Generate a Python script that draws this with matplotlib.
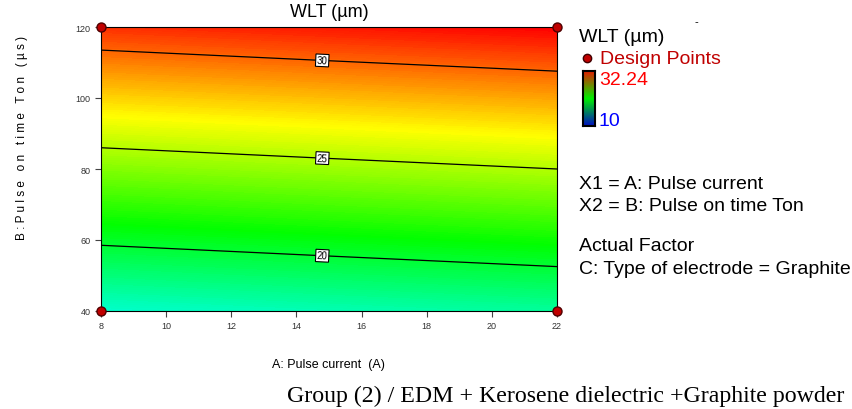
import numpy as np
import matplotlib
matplotlib.use("Agg")
import matplotlib.pyplot as plt
from matplotlib.colors import LinearSegmentedColormap

plt.rcParams["font.family"] = ["Liberation Sans", "DejaVu Sans"]

# WLT (um) at a coarse grid of factor settings
A_VALUES = [8, 15, 22]                 # A: Pulse current (A)
B_VALUES = [40, 60, 80, 100, 120]      # B: Pulse on time Ton (us)
WLT = [                                # rows follow B, columns follow A
    [16.64, 17.19, 17.73],
    [20.27, 20.82, 21.36],
    [23.91, 24.46, 25.00],
    [27.55, 28.09, 28.64],
    [31.18, 31.73, 32.24],
]
CONTOUR_LEVELS = [20, 25, 30]
COLOR_MIN, COLOR_MAX = 10, 32.24
DESIGN_A = [8, 8, 22, 22]
DESIGN_B = [40, 120, 40, 120]
X_TICKS = [8, 10, 12, 14, 16, 18, 20, 22]
Y_TICKS = [40, 60, 80, 100, 120]

cmap = LinearSegmentedColormap.from_list(
    "dx", [(0.0, "#0000ff"), (0.25, "#00ffff"), (0.5, "#00ff00"),
           (0.75, "#ffff00"), (1.0, "#ff0000")])
# the small legend bar is drawn in a darker red-green-blue ramp
legend_cmap = LinearSegmentedColormap.from_list(
    "dx_legend", [(0.0, "#0010c0"), (0.5, "#00ee00"), (1.0, "#e02000")])

fig = plt.figure(figsize=(8.53, 4.10), dpi=100)
ax = fig.add_axes([101 / 853, 1 - 312 / 410, 456 / 853, 284 / 410])

Ag, Bg = np.meshgrid(A_VALUES, B_VALUES)
Z = np.array(WLT)
ax.contourf(Ag, Bg, Z, levels=np.linspace(COLOR_MIN, COLOR_MAX, 200),
            cmap=cmap, vmin=COLOR_MIN, vmax=COLOR_MAX)
cs = ax.contour(Ag, Bg, Z, levels=CONTOUR_LEVELS, colors="black", linewidths=0.9)
labels = ax.clabel(cs, fmt="%d", fontsize=7, inline=False,
                   manual=[(14.8, 112), (14.8, 84), (14.8, 57)])
for t in labels:
    t.set_bbox(dict(boxstyle="square,pad=0.12", fc="white", ec="black", lw=0.8))

ax.plot(DESIGN_A, DESIGN_B, "o", color="#c00000", mec="#500000", ms=6.5,
        clip_on=False, zorder=5)

ax.set_xlim(8, 22)
ax.set_ylim(40, 120)
ax.set_xticks(X_TICKS)
ax.set_yticks(Y_TICKS)
ax.tick_params(direction="out", length=4, width=0.8, labelsize=6.5,
               labelcolor="#333333", color="#444444")
for s in ax.spines.values():
    s.set_linewidth(0.8)

ax.set_title("WLT (µm)", fontsize=13, pad=8)
fig.text(328 / 853, 1 - 365 / 410, "A: Pulse current  (A)", ha="center",
         va="center", fontsize=9)
fig.text(22 / 853, 1 - 138 / 410, "B : P u l s e   o n   t i m e   T o n   ( µ s )",
         ha="center", va="center", rotation=90, fontsize=8.5)

# right-hand legend block
fig.text(579 / 853, 1 - 38 / 410, "WLT (µm)", fontsize=14, va="center")
fig.text(695 / 853, 1 - 22 / 410, "-", fontsize=8, va="center")
fig.lines.append(plt.Line2D([587 / 853], [1 - 59 / 410], marker="o", ms=6,
                            color="#c00000", mec="#400000",
                            transform=fig.transFigure))
fig.text(600 / 853, 1 - 59 / 410, "Design Points", fontsize=14,
         color="#c00000", va="center")
cax = fig.add_axes([583 / 853, 1 - 127 / 410, 12 / 853, 55 / 410])
grad = np.linspace(0, 1, 100).reshape(-1, 1)
cax.imshow(grad, aspect="auto", cmap=legend_cmap, origin="lower",
           extent=[0, 1, 0, 1])
cax.set_xticks([])
cax.set_yticks([])
for s in cax.spines.values():
    s.set_linewidth(1.5)
fig.text(599 / 853, 1 - 81 / 410, "32.24", fontsize=14, color="#ff0000",
         va="center")
fig.text(599 / 853, 1 - 122 / 410, "10", fontsize=14, color="#0000ff",
         va="center")

fig.text(579 / 853, 1 - 185 / 410, "X1 = A: Pulse current", fontsize=14,
         va="center")
fig.text(579 / 853, 1 - 207 / 410, "X2 = B: Pulse on time Ton", fontsize=14,
         va="center")
fig.text(579 / 853, 1 - 247 / 410, "Actual Factor", fontsize=14, va="center")
fig.text(579 / 853, 1 - 270 / 410, "C: Type of electrode = Graphite",
         fontsize=14, va="center")

fig.text(287 / 853, 1 - 396 / 410,
         "Group (2) / EDM + Kerosene dielectric +Graphite powder",
         fontsize=17.2, family="Liberation Serif", va="center")

fig.savefig("out.png", dpi=100)
